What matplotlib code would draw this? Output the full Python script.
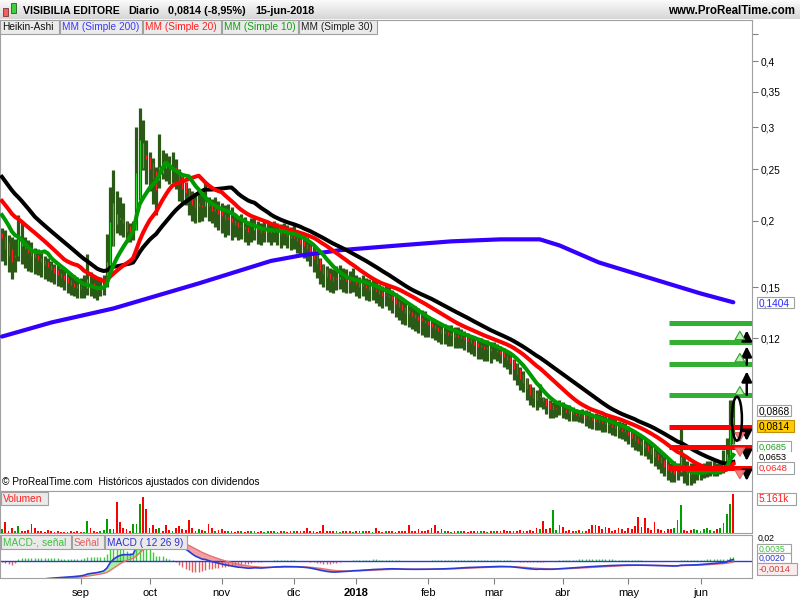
import numpy as np
import pandas as pd
import matplotlib
matplotlib.use("Agg")
import matplotlib.pyplot as plt
import matplotlib.transforms as mtransforms
from matplotlib.patches import Rectangle, Ellipse
from matplotlib.colors import LinearSegmentedColormap

plt.rcParams['font.family'] = ['Liberation Sans', 'DejaVu Sans']

# ---------------- data ----------------
# closes before the first visible bar (only feed the moving averages / MACD)
pre_close = [0.310, 0.303, 0.297, 0.292, 0.288, 0.285, 0.283, 0.282, 0.280, 0.280,
             0.250, 0.245, 0.240, 0.236, 0.232, 0.228, 0.225, 0.222, 0.218, 0.214,
             0.215, 0.214, 0.212, 0.210, 0.208, 0.206, 0.204, 0.202, 0.199]

high = [.194, .192, .188, .186, .185, .205, .200, .186, .184, .182,
        .178, .177, .175, .172, .170, .168, .166, .165, .163, .162,
        .160, .159, .158, .157, .156, .158, .173, .160, .157, .156,
        .157, .158, .189, .232, .249, .228, .222, .216, .200, .198,
        .200, .300, .326, .310, .284, .270, .263, .253, .292, .272,
        .268, .265, .270, .262, .249, .242, .235, .230, .228, .226,
        .228, .225, .238, .222, .220, .222, .218, .216, .214, .215,
        .212, .206, .204, .206, .203, .200, .202, .204, .200, .198,
        .200, .200, .198, .200, .198, .197, .198, .196, .195, .196,
        .192, .190, .188, .186, .183, .179, .175, .170, .166, .164,
        .163, .162, .164, .165, .163, .162, .161, .163, .158, .157,
        .158, .156, .155, .156, .154, .152, .151, .152, .150, .148,
        .146, .144, .142, .141, .140, .139, .138, .137, .136, .135,
        .132, .131, .130, .129, .128, .128, .127, .127, .126, .126,
        .125, .124, .123, .122, .121, .120, .120, .119, .119, .118,
        .118, .117, .116, .115, .114, .112, .110, .108, .106, .104,
        .100, .098, .097, .096, .0986, .093, .0927, .092, .091, .0915,
        .092, .091, .090, .0898, .089, .0885, .088, .0885, .088, .0875,
        .087, .0868, .0865, .086, .0858, .0855, .085, .0845, .084, .0835,
        .083, .082, .081, .080, .079, .079, .078, .077, .076, .075,
        .074, .073, .072, .071, .070, .0705, .070, .081, .072, .0706,
        .070, .0706, .070, .0696, .070, .0705, .0706, .0706, .070, .0705,
        .074, .078, .0917, .0917]

low = [.168, .165, .160, .155, .160, .168, .166, .163, .161, .160,
       .159, .158, .157, .155, .154, .153, .152, .151, .150, .148,
       .146, .145, .144, .143, .143, .143, .145, .144, .143, .142,
       .144, .145, .150, .171, .194, .190, .188, .186, .182, .182,
       .184, .210, .242, .249, .235, .228, .215, .205, .231, .240,
       .238, .235, .236, .230, .218, .215, .214, .205, .200, .198,
       .199, .200, .203, .200, .198, .195, .192, .190, .186, .188,
       .184, .186, .184, .185, .182, .180, .182, .184, .181, .180,
       .182, .182, .180, .182, .180, .178, .180, .178, .176, .177,
       .174, .172, .170, .168, .164, .160, .156, .152, .150, .148,
       .147, .146, .148, .149, .147, .146, .146, .147, .144, .143,
       .144, .142, .141, .142, .140, .138, .137, .138, .136, .134,
       .132, .130, .128, .127, .126, .125, .124, .123, .122, .121,
       .121, .120, .119, .118, .117, .117, .116, .116, .115, .115,
       .115, .114, .113, .112, .111, .110, .110, .109, .109, .108,
       .110, .109, .108, .106, .105, .103, .100, .098, .096, .095,
       .092, .090, .089, .088, .089, .0885, .0865, .085, .085, .0855,
       .086, .085, .0845, .084, .084, .0838, .0835, .083, .082, .0815,
       .081, .0808, .0805, .080, .0798, .0795, .079, .0785, .078, .0775,
       .077, .076, .075, .074, .0735, .0725, .072, .071, .070, .069,
       .068, .067, .066, .065, .0645, .0645, .065, .066, .064, .0635,
       .0635, .064, .065, .065, .0655, .0658, .066, .0662, .066, .0665,
       .067, .068, .070, .0785]

close = [.180, .172, .168, .160, .179, .194, .182, .176, .174, .172,
         .171, .169, .168, .166, .164, .161, .159, .157, .155, .154,
         .151, .150, .149, .148, .147, .149, .155, .150, .148, .147,
         .150, .152, .178, .215, .205, .200, .198, .192, .188, .187,
         .195, .280, .290, .270, .255, .250, .232, .225, .262, .258,
         .252, .250, .255, .246, .232, .228, .224, .218, .212, .210,
         .215, .210, .220, .210, .208, .210, .205, .204, .200, .202,
         .198, .196, .194, .196, .192, .190, .194, .196, .190, .189,
         .192, .192, .190, .193, .190, .188, .190, .186, .184, .186,
         .182, .180, .178, .176, .172, .168, .164, .160, .158, .156,
         .155, .154, .156, .157, .155, .154, .153, .155, .151, .150,
         .151, .149, .148, .149, .147, .145, .144, .145, .143, .141,
         .139, .137, .135, .134, .133, .132, .131, .130, .129, .128,
         .127, .126, .125, .124, .123, .123, .122, .122, .121, .121,
         .121, .120, .119, .118, .117, .116, .116, .115, .115, .114,
         .114, .113, .112, .110, .109, .107, .104, .101, .099, .098,
         .095, .093, .092, .091, .095, .090, .089, .088, .088, .0885,
         .089, .088, .087, .0865, .086, .086, .0855, .0855, .085, .0845,
         .084, .0838, .0835, .083, .0825, .082, .0815, .081, .0805, .080,
         .0795, .0785, .0775, .0765, .0755, .075, .074, .073, .072, .071,
         .070, .069, .068, .067, .066, .066, .0665, .073, .067, .066,
         .0655, .066, .0665, .067, .0675, .068, .068, .0685, .068, .0685,
         .071, .0735, .0894, .0814]

volume = [500, 1400, 300, 600, 200, 900, 300, 250, 400, 1200,
          600, 300, 200, 150, 350, 300, 150, 200, 100, 150,
          100, 200, 150, 300, 100, 150, 1575, 600, 200, 150,
          300, 400, 1800, 500, 500, 4140, 1485, 700, 500, 300,
          1200, 1200, 3900, 4800, 3240, 600, 1125, 500, 700, 300,
          1125, 400, 300, 600, 900, 500, 400, 1700, 600, 300,
          500, 400, 250, 1200, 700, 300, 400, 500, 200, 300,
          250, 150, 300, 200, 150, 250, 300, 200, 100, 200,
          150, 300, 200, 250, 150, 200, 300, 150, 200, 250,
          200, 300, 250, 700, 300, 200, 150, 250, 1000, 300,
          200, 250, 300, 150, 200, 300, 250, 150, 200, 300,
          250, 200, 300, 150, 600, 200, 150, 250, 300, 200,
          150, 300, 200, 250, 1000, 300, 200, 500, 250, 300,
          400, 700, 1000, 300, 500, 200, 300, 150, 200, 250,
          300, 200, 150, 250, 300, 200, 250, 300, 150, 200,
          250, 300, 200, 400, 300, 250, 300, 200, 350, 300,
          250, 400, 300, 600, 500, 1575, 500, 700, 3000, 400,
          1125, 800, 300, 400, 250, 300, 400, 300, 250, 500,
          1000, 1000, 900, 500, 800, 600, 300, 400, 600, 500,
          300, 700, 500, 900, 2100, 800, 2000, 600, 400, 1500,
          500, 400, 300, 500, 500, 700, 1660, 3735, 400, 300,
          400, 500, 400, 300, 500, 600, 400, 300, 500, 600,
          1350, 2560, 3825, 5161]

# simple 200 moving average, read at a few bars
ma200_bar = [0, 15, 34, 60, 82, 91, 103, 121, 137, 152, 164, 170, 182, 198, 213, 223]
ma200_val = [0.121, 0.1286, 0.1367, 0.1524, 0.168, 0.172, 0.176, 0.1797, 0.1829,
             0.1845, 0.1845, 0.1797, 0.1669, 0.1557, 0.1459, 0.1404]

# drawn target levels
green_levels = [0.1286, 0.1184, 0.1076, 0.0940]
red_levels = [0.0817, 0.0748, 0.0684]
black_up = [(0.0928, 0.1053), (0.1058, 0.1174), (0.1178, 0.1258)]
black_down = [(0.0814, 0.0760), (0.0748, 0.0697), (0.0685, 0.0639)]
green_up = [(0.1189, 0.1253), (0.1081, 0.1138), (0.0936, 0.0986)]
pink_down = [(0.0797, 0.0760), (0.0730, 0.0711), (0.0681, 0.0645)]

price_ticks = [0.45, 0.4, 0.35, 0.3, 0.25, 0.2, 0.15, 0.12]
price_labels = ['', '0,4', '0,35', '0,3', '0,25', '0,2', '0,15', '0,12']
month_names = {9: 'sep', 10: 'oct', 11: 'nov', 12: 'dic', 1: '2018',
               2: 'feb', 3: 'mar', 4: 'abr', 5: 'may', 6: 'jun'}
holidays = ['2017-12-25', '2017-12-26', '2018-01-01', '2018-03-30', '2018-04-02', '2018-05-01']

# ---------------- computations ----------------
W, H = 800, 600
n = len(close)
x = np.arange(n)
dates = pd.bdate_range('2017-07-31', '2018-06-15')
dates = dates[~dates.isin(pd.to_datetime(holidays))][:n]

hi = np.array(high)
lo = np.array(low)
cl = np.array(close)
op = np.r_[pre_close[-1], cl[:-1]]
ha_c = (op + hi + lo + cl) / 4
ha_o = np.zeros(n)
ha_o[0] = (op[0] + cl[0]) / 2
for k in range(1, n):
    ha_o[k] = (ha_o[k - 1] + ha_c[k - 1]) / 2
ha_h = np.maximum(hi, np.maximum(ha_o, ha_c))
ha_l = np.minimum(lo, np.minimum(ha_o, ha_c))

m = len(pre_close)
full = pd.Series(np.r_[pre_close, cl])
ma10 = full.rolling(10).mean().values[m:]
ma20 = full.rolling(20).mean().values[m:]
ma30 = full.rolling(30).mean().values[m:]
macd_s = full.ewm(span=12, adjust=False).mean() - full.ewm(span=26, adjust=False).mean()
sig_s = macd_s.ewm(span=9, adjust=False).mean()
macd = macd_s.values[m:]
sig = sig_s.values[m:]
hist = macd - sig

# ---------------- figure ----------------
fig = plt.figure(figsize=(8, 6), dpi=100)


def frac(x0, y0, x1, y1):
    return [x0 / W, 1 - y1 / H, (x1 - x0) / W, (y1 - y0) / H]


def tag(x0, y0, x1, y1, s, color, fc='#ebebeb', ec='#a0a0a0', size=7.3, weight='normal'):
    fig.add_artist(Rectangle((x0 / W, 1 - y1 / H), (x1 - x0) / W, (y1 - y0) / H,
                             transform=fig.transFigure, fc=fc, ec=ec, lw=0.8, zorder=5))
    fig.text((x0 + 2) / W, 1 - ((y0 + y1) / 2 + 0.5) / H, s, color=color, size=size,
             weight=weight, va='center', ha='left', zorder=6)


grid_col = '#a0a0a0'
xl = (-0.6, 228.7)

# title bar
axt = fig.add_axes(frac(0, 0, 800, 19))
grad = LinearSegmentedColormap.from_list('g', ['#fbfbfb', '#d6d6d6'])
axt.imshow(np.linspace(0, 1, 30).reshape(-1, 1), aspect='auto', cmap=grad, extent=(0, 1, 0, 1))
axt.set_axis_off()
axt.add_patch(Rectangle((3 / 800, 0.15), 5 / 800, 0.45, transform=axt.transAxes,
                        fc='#f06060', ec='#803030', lw=0.6))
axt.add_patch(Rectangle((11 / 800, 0.3), 5 / 800, 0.55, transform=axt.transAxes,
                        fc='#40d040', ec='#206020', lw=0.6))
ty = 1 - 10.5 / H
fig.text(23 / W, ty, 'VISIBILIA EDITORE', weight='bold', size=7.6, va='center')
fig.text(128 / W, ty, 'Diario', weight='bold', size=7.8, va='center')
fig.text(168 / W, ty, '0,0814 (-8,95%)', weight='bold', size=7.8, va='center')
fig.text(255 / W, ty, '15-jun-2018', weight='bold', size=7.8, va='center')
fig.text(795 / W, ty, 'www.ProRealTime.com', weight='bold', size=8.3, va='center', ha='right')

# ---- price panel ----
ax = fig.add_axes(frac(0, 20, 752, 491))
ax.set_yscale('log')
ax.set_xlim(*xl)
ax.set_ylim(0.0619, 0.478)
body_col = np.where(ha_c >= ha_o, '#22d022', '#ff2020')
ax.vlines(x, ha_l, ha_h, color='#2b5a17', lw=2.3, zorder=2)
ax.vlines(x, np.minimum(ha_o, ha_c), np.maximum(ha_o, ha_c), colors=body_col, lw=0.8, zorder=3)
ax.plot(ma200_bar, ma200_val, color='#3300ff', lw=3.0, zorder=4, solid_capstyle='round')
ax.plot(x, ma30, color='black', lw=2.9, zorder=4)
ax.plot(x, ma20, color='#ff0000', lw=2.9, zorder=5)
ax.plot(x, ma10, color='#009a00', lw=2.9, zorder=6)

lvl_x0 = 203.3
for v in green_levels:
    ax.plot([lvl_x0, xl[1]], [v, v], color='#33b033', lw=3.6, zorder=7, solid_capstyle='butt')
for v in red_levels:
    ax.plot([lvl_x0, xl[1]], [v, v], color='#ff0000', lw=3.6, zorder=7, solid_capstyle='butt')
for a, b in black_up + black_down:
    ax.annotate('', xy=(227.1, b), xytext=(227.1, a),
                arrowprops=dict(arrowstyle='-|>,head_width=0.3,head_length=0.6', color='black', lw=1.8),
                zorder=8)
for a, b in green_up:
    ax.annotate('', xy=(225, b), xytext=(225, a),
                arrowprops=dict(arrowstyle='simple,head_width=0.7,head_length=0.6,tail_width=0.3',
                                fc='#b8f0b0', ec='#30a030', lw=0.8), zorder=8)
for a, b in pink_down:
    ax.annotate('', xy=(225, b), xytext=(225, a),
                arrowprops=dict(arrowstyle='simple,head_width=0.7,head_length=0.6,tail_width=0.3',
                                fc='#f08080', ec='#e06060', lw=0.8), zorder=8)

ax.yaxis.tick_right()
ax.set_yticks(price_ticks)
ax.set_yticklabels(price_labels)
ax.yaxis.set_minor_locator(matplotlib.ticker.NullLocator())
ax.tick_params(axis='y', length=4, color='#808080', labelsize=7.3, pad=2)
ax.set_xticks([])
for s in ax.spines.values():
    s.set_color(grid_col)

# ellipse around the last spike (pixel units)
fig.canvas.draw()
cx, cy = ax.transData.transform((224.1, 0.0847))
ax.add_patch(Ellipse((cx, cy), 10, 44, transform=mtransforms.IdentityTransform(),
                     fill=False, ec='black', lw=1.8, zorder=9))

# legend row
tag(0, 20, 59, 34, 'Heikin-Ashi', '#101010')
tag(60, 20, 142, 34, 'MM (Simple 200)', '#3a3aff')
tag(143, 20, 221, 34, 'MM (Simple 20)', '#ff2020')
tag(222, 20, 298, 34, 'MM (Simple 10)', '#10a010')
tag(299, 20, 377, 34, 'MM (Simple 30)', '#202020')
fig.text(2 / W, 1 - 482 / H, '© ProRealTime.com  Históricos ajustados con dividendos', size=7.3,
         va='center')

# price value tags on the right
tag(757, 297, 794, 308, '0,1404', '#2a2aff', fc='white')
tag(757, 405, 791, 416, '0,0868', 'black', fc='white')
tag(757, 420, 794, 432, '0,0814', 'black', fc='#ffcc00', ec='#c09000')
tag(757, 441, 791, 452, '0,0685', '#20a020', fc='white', size=6.6)
tag(757, 452, 791, 462, '0,0653', 'black', fc='white', ec='white', size=6.6)
tag(757, 462, 794, 474, '0,0648', '#ff2020', fc='white', size=6.8)

# ---- volume panel ----
axv = fig.add_axes(frac(0, 491, 752, 533))
vcol = np.where(np.r_[cl[0], np.diff(cl)] >= 0, '#00a000', '#ff0000')
vcol[-1] = '#ff0000'
axv.bar(x, volume, width=0.55, color=vcol, linewidth=0)
axv.set_xlim(*xl)
axv.set_ylim(0, 5161 * 41 / 38)
axv.set_xticks([])
axv.set_yticks([])
for s in axv.spines.values():
    s.set_color(grid_col)
tag(1, 492, 48, 505, 'Volumen', '#ff2020', fc='#eaeaea')
tag(757, 493, 796, 505, '5.161k', '#ff2020', fc='white')

# ---- MACD panel ----
axm = fig.add_axes(frac(0, 535, 752, 578))
axm.set_xlim(*xl)
axm.set_ylim(-0.017, 0.025)
axm.fill_between(x, macd, sig, where=sig >= macd, color='#f4a0a0', lw=0, interpolate=True)
axm.fill_between(x, macd, sig, where=macd > sig, color='#a8f0a0', lw=0, interpolate=True)
hcol = np.where(hist >= 0, '#40c840', '#e06060')
axm.vlines(x, 0, hist * 1.6, colors=hcol, lw=1.0)
axm.axhline(0, color='#2a3ad8', lw=1.0)
axm.plot(x, sig, color='#e87070', lw=1.0)
axm.plot(x, macd, color='#2a3ad8', lw=1.2)
axm.set_yticks([])
for s in axm.spines.values():
    s.set_color(grid_col)

m_idx = [k for k in range(1, n) if dates[k].month != dates[k - 1].month and dates[k].month in month_names]
axm.set_xticks(m_idx)
axm.set_xticklabels([month_names[dates[k].month] for k in m_idx])
for lab, k in zip(axm.get_xticklabels(), m_idx):
    if dates[k].month == 1:
        lab.set_fontweight('bold')
        lab.set_fontsize(9)
axm.tick_params(axis='x', length=4, color='#808080', labelsize=8, pad=3)

tag(1, 535, 71, 549, 'MACD-, señal', '#40c040', fc='#eaeaea')
tag(72, 535, 104, 549, 'Señal', '#e06060', fc='#eaeaea')
tag(105, 535, 187, 549, 'MACD ( 12 26 9)', '#3030d0', fc='#eaeaea')
fig.text(758 / W, 1 - 538 / H, '0,02', size=6.3, va='center')
tag(757, 544, 791, 553, '0,0035', '#40c040', fc='white', size=6.3)
tag(757, 553, 791, 563, '0,0020', '#3030d0', fc='white', size=6.3)
tag(757, 563, 797, 575, '-0,0014', '#d04040', fc='#f8ecec', size=6.8)

fig.savefig('out.png', dpi=100)
